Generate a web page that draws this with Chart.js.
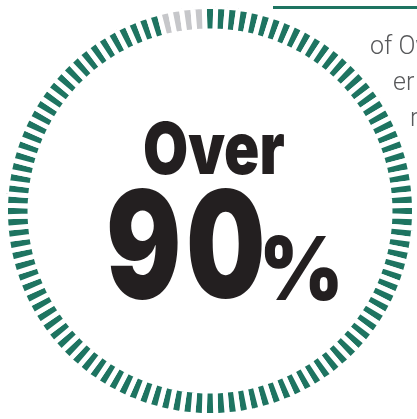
<!DOCTYPE html>
<html>
<head>
<meta charset="utf-8">
<script src="https://cdn.jsdelivr.net/npm/chart.js@4"></script>
<style>
  html, body { margin: 0; padding: 0; background: #fff; overflow: hidden; }
  #wrap { position: relative; width: 417px; height: 419px; overflow: hidden; }
  #ring { position: absolute; left: 3px; top: 4px; }
  .big { position: absolute; font-family: 'Inter', sans-serif; font-weight: 900; color: #231f20;
         line-height: 1; white-space: nowrap; transform-origin: left top; }
  .side { position: absolute; font-family: 'Roboto', sans-serif; font-weight: 300; color: #58595b;
          font-size: 25px; line-height: 1; white-space: nowrap; }
  #rule { position: absolute; left: 273px; top: 6px; width: 150px; height: 3px; background: #1e7461; }
</style>
</head>
<body>
<div id="wrap">
  <canvas id="ring" width="414" height="414"></canvas>
  <div id="rule"></div>
  <div class="side" style="left:370px; top:33px;">of Ow</div>
  <div class="side" style="left:393px; top:69px;">er</div>
  <div class="side" style="left:410px; top:105px;">r</div>
  <div class="big" style="left:143px; top:112px; font-size:72px; transform:scaleX(0.81);">Over</div>
  <div class="big" style="left:106px; top:170px; font-size:149px; transform:scaleX(0.75); letter-spacing:6px;">90</div>
  <div class="big" style="left:259px; top:224px; font-size:88px; transform:scaleX(0.92);">%</div>
</div>
<script>
'use strict';

// ring of ticks: most are filled, the last few (just left of the top) are empty
const segments = ['filled', 'empty'];
const segmentTicks = [108, 4];
const segmentColors = ['#1e7461', '#c6c7ca'];

const tickLabels = [];
const tickValues = [];
const tickColors = [];
segments.forEach((name, i) => {
  for (let k = 0; k < segmentTicks[i]; k++) {
    tickLabels.push(name);
    tickValues.push(1);
    tickColors.push(segmentColors[i]);
  }
});
const totalTicks = tickValues.length;

new Chart(document.getElementById('ring'), {
  type: 'doughnut',
  data: {
    labels: tickLabels,
    datasets: [
      {
        data: tickValues,
        backgroundColor: tickColors,
        borderColor: '#ffffff',
        borderWidth: 5,
        hoverOffset: 0,
      },
    ],
  },
  options: {
    responsive: false,
    animation: false,
    devicePixelRatio: 1,
    cutout: '88%',
    rotation: -180 / totalTicks,
    layout: { padding: 0 },
    plugins: {
      legend: { display: false },
      tooltip: { enabled: false },
    },
  },
});
</script>
</body>
</html>
